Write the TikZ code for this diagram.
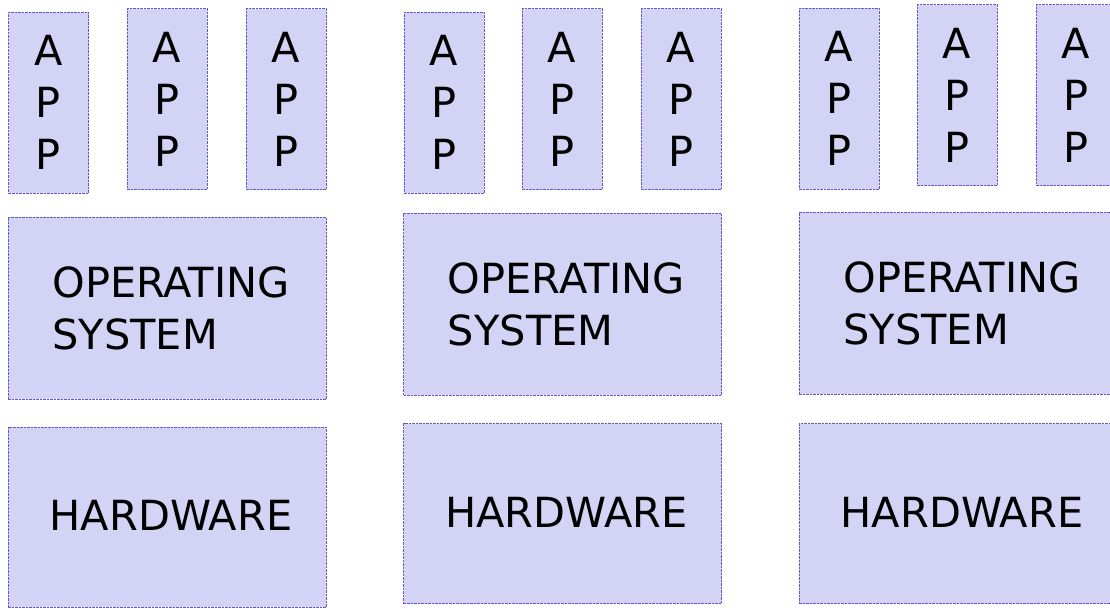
\documentclass[tikz,border=0pt]{standalone}
\usepackage{fontspec}
\setmainfont{DejaVu Sans}
\definecolor{boxfill}{RGB}{211,211,245}
\definecolor{boxline}{RGB}{104,84,196}
\newcommand{\sh}{\hspace*{8pt}}
\tikzset{
  box/.style={draw=boxline, fill=boxfill, line width=1pt, dash pattern=on 2.5pt off 1pt,
    inner sep=0pt, outer sep=0pt, font=\fontsize{41.5}{52}\selectfont, text=black},
  appbox/.style={box, align=center, minimum width=80pt, minimum height=181pt},
  osbox/.style={box, align=left, minimum width=318pt, minimum height=182pt},
  hwbox/.style={box, align=center, minimum width=318pt, minimum height=180pt},
}
\begin{document}
\begin{tikzpicture}[x=1pt,y=-1pt]
\useasboundingbox (0,0) rectangle (1110,608);
\clip (0,0) rectangle (1110,608);
% column 1
\node[appbox] (a11) at (48.5,102.5) {A\\P\\P};
\node[appbox] (a12) at (167,99) {A\\P\\P};
\node[appbox] (a13) at (286,99) {A\\P\\P};
\node[osbox] (os1) at (167,308) {\sh OPERATING\\\sh SYSTEM};
\node[hwbox] (hw1) at (167,517) {\raisebox{3pt}{\sh HARDWARE}};
% column 2
\node[appbox] (a21) at (444,102.5) {A\\P\\P};
\node[appbox] (a22) at (562,99) {A\\P\\P};
\node[appbox] (a23) at (681,99) {A\\P\\P};
\node[osbox] (os2) at (562.5,304) {\sh OPERATING\\\sh SYSTEM};
\node[hwbox] (hw2) at (562.5,513.5) {\raisebox{3pt}{\sh HARDWARE}};
% column 3
\node[appbox] (a31) at (839,98.5) {A\\P\\P};
\node[appbox] (a32) at (957,95) {A\\P\\P};
\node[appbox] (a33) at (1076,95) {A\\P\\P};
\node[osbox] (os3) at (958,303) {\sh OPERATING\\\sh SYSTEM};
\node[hwbox] (hw3) at (958,513.5) {\raisebox{3pt}{\sh HARDWARE}};
\end{tikzpicture}
\end{document}
